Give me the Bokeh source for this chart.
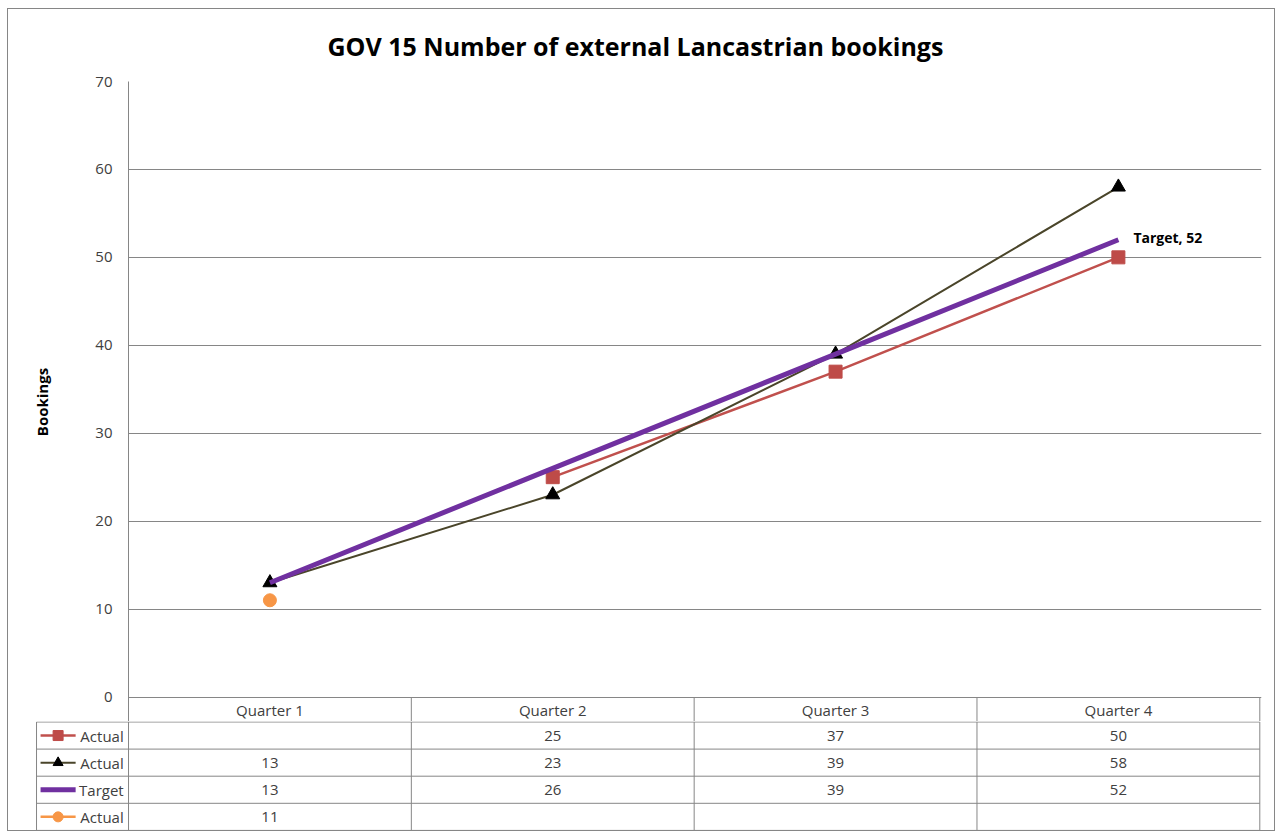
from bokeh.plotting import figure
from bokeh.models import Range1d, FixedTicker, Title
from bokeh.core.properties import value
from bokeh.embed import file_html
from bokeh.resources import INLINE

# ---------------- data ----------------
quarters = ["Quarter 1", "Quarter 2", "Quarter 3", "Quarter 4"]
actual_red = [None, 25, 37, 50]
actual_black = [13, 23, 39, 58]
target = [13, 26, 39, 52]
actual_orange = [11, None, None, None]
y_ticks = [0, 10, 20, 30, 40, 50, 60, 70]
series_names = ["Actual", "Actual", "Target", "Actual"]

FONT = "Open Sans"
GRID = "#868686"
TXT = "#404040"
RED, RED_M = "#C0504D", "#BE4B48"
OLIVE, BLACK = "#4A452A", "#000000"
PURPLE = "#7030A0"
ORANGE = "#F79646"
BORDER = "1px solid #868686"

xc = [i + 0.5 for i in range(len(quarters))]

# ---------------- main chart ----------------
p = figure(width=1268, height=713, output_backend="svg", toolbar_location=None,
           x_range=Range1d(0, 4.006), y_range=Range1d(-2.9, 70),
           min_border_left=120, min_border_right=15, min_border_top=72,
           min_border_bottom=0)
p.styles = {"margin-left": "7px", "margin-top": "8px", "border-left": BORDER,
            "border-right": BORDER, "border-top": BORDER}
p.outline_line_color = None
p.xaxis.visible = False
p.xgrid.visible = False
p.yaxis.ticker = FixedTicker(ticks=y_ticks)
p.ygrid.ticker = FixedTicker(ticks=y_ticks)
p.ygrid.grid_line_color = GRID
p.ygrid.grid_line_width = 1
p.yaxis.axis_line_color = GRID
p.yaxis.major_tick_line_color = None
p.yaxis.minor_tick_line_color = None
p.yaxis.major_tick_out = 0
p.yaxis.major_tick_in = 0
p.yaxis.major_label_standoff = 16
p.yaxis.major_label_text_font = FONT
p.yaxis.major_label_text_font_size = "15px"
p.yaxis.major_label_text_color = TXT
p.yaxis.axis_label = "Bookings"
p.yaxis.axis_label_text_font = FONT
p.yaxis.axis_label_text_font_style = "bold"
p.yaxis.axis_label_text_font_size = "15px"
p.yaxis.axis_label_text_color = "#000000"
p.yaxis.axis_label_standoff = 40

t = Title(text="GOV 15 Number of external Lancastrian bookings", align="left",
          vertical_align="top", offset=199, standoff=34, text_font=FONT,
          text_font_size="25px", text_font_style="bold", text_color="#000000")
p.add_layout(t, "above")

# header row of the data table (inside the main figure, below 0)
hdr_y = -1.47
p.segment(x0=[1, 2, 3, 4], y0=[0] * 4, x1=[1, 2, 3, 4], y1=[-2.9] * 4,
          line_color=GRID, line_width=1)
p.text(x=xc, y=[hdr_y] * 4, text=quarters, text_font=value(FONT),
       text_font_size="15px", text_color=TXT, text_align="center",
       text_baseline="middle")

# series
def xy(vals):
    xs, ys = [], []
    for x, v in zip(xc, vals):
        if v is not None:
            xs.append(x); ys.append(v)
    return xs, ys

rx, ry = xy(actual_red)
p.line(rx, ry, line_color=RED, line_width=2.5)
p.scatter(rx, ry, marker="square", size=13, fill_color=RED_M, line_color=RED_M)

bx, by = xy(actual_black)
p.line(bx, by, line_color=OLIVE, line_width=2)
p.scatter(bx, by, marker="triangle", size=14, fill_color=BLACK, line_color=BLACK)

tx, ty = xy(target)
p.line(tx, ty, line_color=PURPLE, line_width=5)

ox, oy = xy(actual_orange)
p.scatter(ox, oy, marker="circle", size=13, fill_color=ORANGE, line_color=ORANGE)

p.text(x=[tx[-1]], y=[ty[-1]], text=[f"Target, {ty[-1]}"], x_offset=15,
       y_offset=-2, text_font=value(FONT), text_font_size="14px",
       text_font_style="bold", text_color="#000000", text_baseline="middle")

# ---------------- data table rows ----------------
LEFT = -0.3253
q = figure(width=1268, height=110, output_backend="svg", toolbar_location=None,
           x_range=Range1d(-0.3289, 4.006), y_range=Range1d(4.04, -0.018),
           min_border_left=27, min_border_right=15, min_border_top=0,
           min_border_bottom=0)
q.styles = {"margin-left": "7px", "border-left": BORDER,
            "border-right": BORDER, "border-bottom": BORDER}
q.outline_line_color = None
q.axis.visible = False
q.grid.visible = False

nrows = len(series_names)
q.segment(x0=[LEFT] * (nrows + 1), y0=list(range(nrows + 1)),
          x1=[4] * (nrows + 1), y1=list(range(nrows + 1)),
          line_color=GRID, line_width=1)
q.segment(x0=[LEFT, 0, 1, 2, 3, 4], y0=[0] * 6, x1=[LEFT, 0, 1, 2, 3, 4],
          y1=[nrows] * 6, line_color=GRID, line_width=1)

rows = [actual_red, actual_black, target, actual_orange]
cx, cy, ct = [], [], []
for r, vals in enumerate(rows):
    for i, v in enumerate(vals):
        if v is not None:
            cx.append(xc[i]); cy.append(r + 0.5); ct.append(str(v))
q.text(x=cx, y=cy, text=ct, text_font=value(FONT), text_font_size="15px",
       text_color=TXT, text_align="center", text_baseline="middle")

ry_mid = [r + 0.5 for r in range(nrows)]
q.text(x=[-0.017] * nrows, y=ry_mid, text=series_names, text_font=value(FONT),
       text_font_size="15px", text_color=TXT, text_align="right",
       text_baseline="middle")

# legend keys
k0, k1, km = -0.311, -0.187, -0.249
q.segment(x0=[k0], y0=[0.5], x1=[k1], y1=[0.5], line_color=RED, line_width=2.5)
q.scatter([km], [0.5], marker="square", size=10, fill_color=RED_M, line_color=RED_M)
q.segment(x0=[k0], y0=[1.5], x1=[k1], y1=[1.5], line_color=OLIVE, line_width=2)
q.scatter([km], [1.5], marker="triangle", size=10, fill_color=BLACK, line_color=BLACK)
q.segment(x0=[k0], y0=[2.5], x1=[k1], y1=[2.5], line_color=PURPLE, line_width=5)
q.segment(x0=[k0], y0=[3.5], x1=[k1], y1=[3.5], line_color=ORANGE, line_width=2.5)
q.scatter([km], [3.5], marker="circle", size=10, fill_color=ORANGE, line_color=ORANGE)

open("out.html", "w").write(file_html([p, q], INLINE))
